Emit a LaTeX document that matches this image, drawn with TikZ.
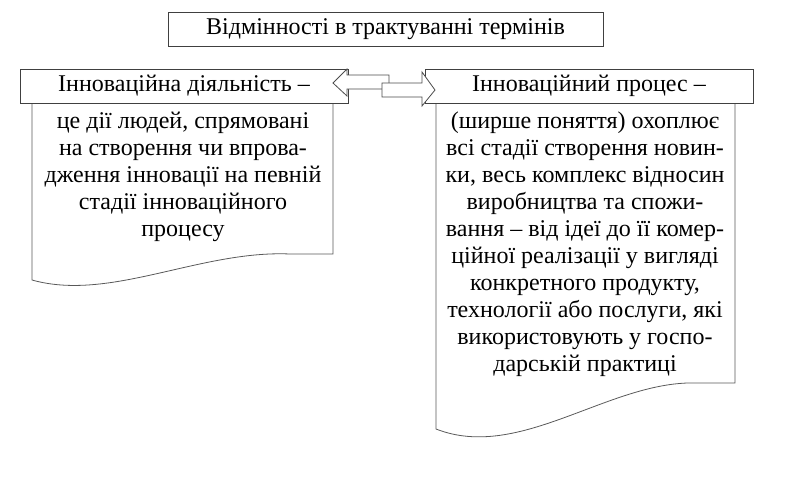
\documentclass[tikz,border=0pt]{standalone}
\usepackage{fontspec}
\setmainfont{Liberation Serif}
\begin{document}
\begin{tikzpicture}[x=1pt,y=-1pt,
        box/.style={draw, thick, draw=black!75, inner sep=0pt, font=\fontsize{24}{27}\selectfont},
        doctext/.style={align=center, anchor=north, inner sep=0pt, font=\fontsize{24}{27}\selectfont},
        docline/.style={draw=black!65, thick},
        hollow/.style={draw=black!70, thick, fill=white}]
        \useasboundingbox (0,0) rectangle (788,482);

        % title
        \node[box, minimum width=435pt, minimum height=34pt] (title) at (385.5,29) {Відмінності в трактуванні термінів};

        % documents
        \draw[docline] (32,103) -- (32,280) .. controls (110,302) and (200,250) .. (290,254) -- (333,254) -- (333,103);
        \draw[docline] (436,103) -- (436,429) .. controls (520,462) and (610,380) .. (697,383) -- (735,383) -- (735,103);

        % headers
        \node[box, fill=white, minimum width=328pt, minimum height=34pt] (act) at (184,86) {Інноваційна діяльність –};
        \node[box, fill=white, minimum width=328pt, minimum height=34pt] (proc) at (589,86) {Інноваційний процес –};

        % texts
        \node[doctext] (acttext) at (183,112) {це дії людей, спрямовані\\на створення чи впрова-\\дження інновації на певній\\стадії інноваційного\\процесу};
        \node[doctext] (proctext) at (585,112) {(ширше поняття) охоплює\\всі стадії створення новин-\\ки, весь комплекс відносин\\виробництва та спожи-\\вання – від ідеї до її комер-\\ційної реалізації у вигляді\\конкретного продукту,\\технології або послуги, які\\використовують у госпо-\\дарській практиці};

        % arrows
        \draw[hollow] (389,75) -- (347,75) -- (347,69) -- (333,83) -- (347,96) -- (347,89) -- (389,89) -- cycle;
        \draw[hollow] (382,83) -- (422,83) -- (422,72) -- (435,90) -- (422,106) -- (422,97) -- (382,97) -- cycle;
\end{tikzpicture}
\end{document}
